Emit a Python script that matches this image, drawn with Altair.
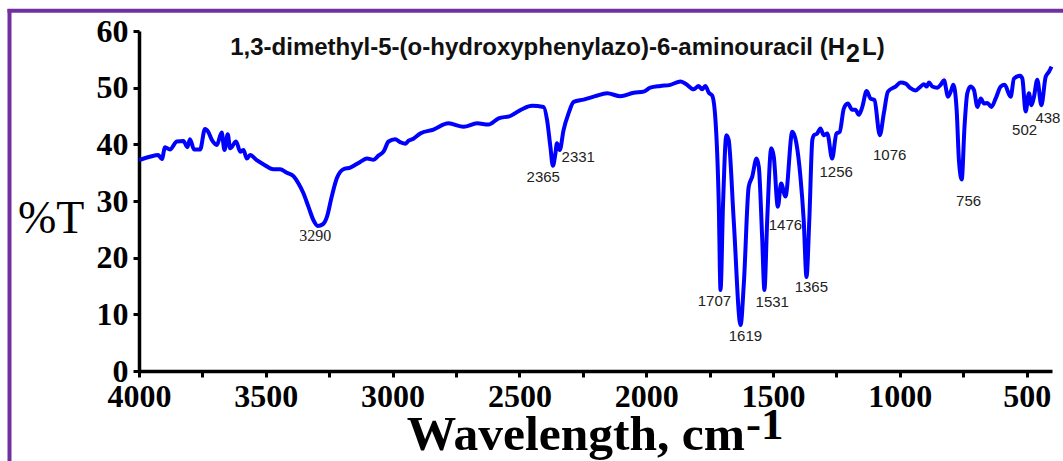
import altair as alt
import pandas as pd

# ---- spectrum (wavenumber, %T) ----
wavenumber = [4000, 3957, 3924, 3910, 3897, 3878, 3851, 3825, 3809, 3799, 3783, 3759, 3740, 3727,
              3713, 3693, 3674, 3663, 3650, 3641, 3617, 3601, 3588, 3575, 3562, 3536, 3510, 3470,
              3444, 3417, 3391, 3371, 3352, 3332, 3312, 3295, 3275, 3259, 3240, 3220, 3194, 3167,
              3128, 3101, 3075, 3056, 3036, 3016, 2990, 2970, 2950, 2938, 2918, 2891, 2839, 2780,
              2720, 2667, 2622, 2582, 2536, 2490, 2450, 2405, 2391, 2378, 2368, 2358, 2352, 2341,
              2326, 2306, 2286, 2247, 2201, 2154, 2102, 2049, 2010, 1984, 1944, 1905, 1865, 1845,
              1813, 1793, 1780, 1767, 1753, 1740, 1727, 1714, 1707, 1697, 1684, 1675, 1655, 1628,
              1615, 1596, 1582, 1565, 1556, 1543, 1534, 1523, 1507, 1497, 1481, 1468, 1451, 1424,
              1392, 1379, 1368, 1357, 1345, 1339, 1326, 1313, 1300, 1286, 1267, 1250, 1237, 1221,
              1205, 1188, 1175, 1162, 1148, 1131, 1116, 1100, 1079, 1063, 1047, 1017, 997, 977,
              958, 938, 918, 905, 894, 885, 872, 852, 839, 826, 810, 797, 789, 776, 767, 756,
              745, 734, 721, 708, 694, 681, 668, 655, 639, 622, 602, 587, 563, 550, 526, 517,
              504, 491, 481, 471, 458, 442, 425, 412, 402]
transmittance = [37.2, 37.8, 38.1, 37.4, 39.5, 39.1, 40.5, 40.6, 39.5, 40.9, 39.1, 39.1, 42.7, 42.2,
                 40.8, 39.9, 42.1, 39.0, 41.8, 39.3, 40.5, 38.7, 39.0, 37.5, 38.1, 37.2, 36.5, 35.6,
                 35.6, 35.0, 34.4, 33.1, 31.4, 29.0, 26.6, 25.6, 25.9, 27.2, 30.8, 34.0, 35.6, 35.9,
                 36.9, 37.5, 37.3, 38.0, 38.7, 40.5, 40.9, 40.4, 40.1, 40.6, 41.0, 41.9, 42.6, 43.7,
                 43.1, 43.7, 43.5, 44.6, 45.0, 46.2, 46.8, 46.6, 44.3, 39.6, 36.2, 38.4, 40.2, 39.0,
                 42.5, 45.5, 47.5, 47.9, 48.5, 49.0, 48.5, 49.1, 49.3, 50.0, 50.3, 50.5, 51.1, 50.7,
                 49.7, 50.3, 49.7, 50.3, 49.1, 48.6, 44.3, 29.6, 14.3, 29.6, 41.6, 40.8, 26.6, 8.1,
                 15.5, 32.5, 34.3, 37.5, 36.0, 23.7, 14.3, 26.6, 39.3, 37.8, 29.0, 33.1, 30.8, 42.2,
                 34.3, 26.6, 16.6, 26.6, 40.8, 41.6, 41.9, 42.8, 41.6, 41.9, 37.5, 41.9, 42.2, 46.3,
                 47.2, 46.1, 46.1, 45.2, 46.6, 49.4, 48.1, 47.8, 41.6, 45.5, 49.3, 50.2, 50.9, 50.7,
                 49.9, 49.5, 50.2, 50.6, 50.2, 50.9, 50.2, 50.0, 50.5, 51.3, 48.4, 49.6, 50.5, 46.1,
                 37.2, 33.8, 43.1, 49.0, 50.2, 49.6, 46.6, 48.1, 47.2, 47.3, 46.6, 48.1, 50.2, 50.5,
                 48.4, 51.6, 52.1, 51.6, 45.8, 49.0, 46.9, 48.4, 51.4, 46.9, 51.9, 52.8, 53.7]

# ---- peak annotations: text, label position (wavenumber, %T) ----
peak_text = ["3290", "2365", "2331", "1707", "1619", "1531", "1476", "1365",
             "1256", "1076", "756", "502", "438"]
peak_x = [3305, 2406, 2268, 1731, 1609, 1503, 1451, 1349, 1251, 1040, 729, 508, 416]
peak_y = [23.8, 34.2, 37.8, 12.4, 6.2, 12.2, 25.8, 14.8, 35.2, 38.1, 30.0, 42.6, 44.6]
peak_serif = [True] + [False] * 12

title_main = "1,3-dimethyl-5-(o-hydroxyphenylazo)-6-aminouracil (H"
title_sub = "2"
title_end = "L)"
x_title = "Wavelength, cm"
x_title_sup = "-1"
y_title = "%T"

x_ticks = list(range(4000, 400, -250))
y_ticks = list(range(0, 61, 5))

W, H = 913, 340
OX, OY = 139, 31  # plot origin in page pixels

df = pd.DataFrame({"wn": wavenumber, "T": transmittance})
lab = pd.DataFrame({"text": peak_text, "x": peak_x, "y": peak_y, "serif": peak_serif})

xscale = alt.Scale(domain=[400, 4000], reverse=True, nice=False, zero=False)
yscale = alt.Scale(domain=[0, 60], nice=False, zero=True)

axis_common = dict(
    labelFont="Liberation Serif", labelFontWeight="bold", labelFontSize=32, labelColor="black",
    domainColor="black", domainWidth=3.5, tickColor="black", tickWidth=3, tickSize=6,
    grid=False, title=None, labelFlush=False, labelOverlap=False, format="d",
)
x_axis = alt.Axis(values=x_ticks, labelExpr="datum.value % 500 == 0 ? datum.label : ''",
                  labelPadding=4, **axis_common)
y_axis = alt.Axis(values=y_ticks, labelExpr="datum.value % 10 == 0 ? datum.label : ''",
                  labelPadding=5, **axis_common)

line = alt.Chart(df).mark_line(color="#0000FF", strokeWidth=4, interpolate="monotone").encode(
    x=alt.X("wn:Q", scale=xscale, axis=x_axis),
    y=alt.Y("T:Q", scale=yscale, axis=y_axis),
    order="wn:Q",
)

labels_sans = alt.Chart(lab).transform_filter("!datum.serif").mark_text(
    font="Liberation Sans", fontSize=15, color="#222222"
).encode(x=alt.X("x:Q", scale=xscale), y=alt.Y("y:Q", scale=yscale), text="text:N")

labels_serif = alt.Chart(lab).transform_filter("datum.serif").mark_text(
    font="Liberation Serif", fontSize=16, color="#222222"
).encode(x=alt.X("x:Q", scale=xscale), y=alt.Y("y:Q", scale=yscale), text="text:N")

one = pd.DataFrame({"a": [0]})


def txt(s, px, py, **kw):
    return alt.Chart(one).mark_text(text=s, baseline="alphabetic", **kw).encode(
        x=alt.value(px - OX), y=alt.value(py - OY))


t1 = txt(title_main, 845, 55, align="right", font="Liberation Sans", fontWeight="bold",
         fontSize=24, color="#111111")
t2 = txt(title_sub, 846, 62, align="left", font="Liberation Sans", fontWeight="bold",
         fontSize=25, color="#111111")
t3 = txt(title_end, 862, 55, align="left", font="Liberation Sans", fontWeight="bold",
         fontSize=24, color="#111111")
yt = txt(y_title, 18, 233, align="left", font="Liberation Serif", fontSize=46, color="black")
xt1 = txt(x_title, 745, 450, align="right", font="Liberation Serif", fontWeight="bold",
          fontSize=49.5, color="black")
xt2 = txt(x_title_sup, 746, 439, align="left", font="Liberation Serif", fontWeight="bold",
          fontSize=45, color="black")

border_color = "#7030A0"
b_left = alt.Chart(one).mark_rule(color=border_color, strokeWidth=4).encode(
    x=alt.value(9.5 - OX), y=alt.value(9 - OY), y2=alt.value(461 - OY))
b_top = alt.Chart(one).mark_rule(color=border_color, strokeWidth=4).encode(
    x=alt.value(7.5 - OX), x2=alt.value(1063 - OX), y=alt.value(10.8 - OY))

chart = alt.layer(
    b_left, b_top, line, labels_sans, labels_serif, t1, t2, t3, yt, xt1, xt2
).properties(
    width=W, height=H,
    autosize=alt.AutoSizeParams(type="none"),
    padding={"left": OX, "top": OY, "right": 1063 - OX - W, "bottom": 461 - OY - H},
    background="white",
).configure_view(stroke=None)

chart.save("out.html", embed_options={"renderer": "svg", "actions": False})
